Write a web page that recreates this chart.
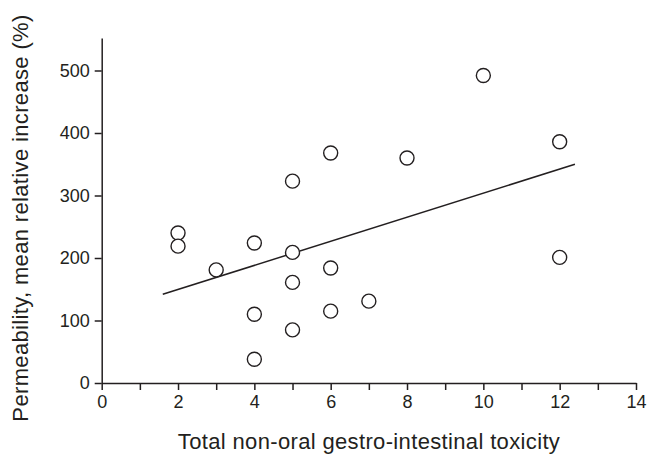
<!DOCTYPE html>
<html>
<head>
<meta charset="utf-8">
<script src="https://cdn.jsdelivr.net/npm/d3@7"></script>
<style>
  body { margin: 0; background: #fff; }
  svg { display: block; font-family: "Liberation Sans", Arial, Helvetica, sans-serif; }
  .axis text { font-size: 18px; fill: #231f20; }
  .axis line, .axis path { stroke: #231f20; stroke-width: 1.5; }
  .axis-title { font-size: 22px; letter-spacing: 0.35px; fill: #231f20; }
</style>
</head>
<body>
<div id="chart"></div>
<script>
// Data
const toxicity = [2, 2, 3, 4, 4, 4, 5, 5, 5, 5, 6, 6, 6, 7, 8, 10, 12, 12];
const permeability = [240, 219, 181, 224, 110, 38, 323, 209, 161, 85, 368, 184, 115, 131, 360, 492, 386, 201];
const trendX = [1.6, 12.4];
const trendY = [142, 350];
const xTicks = d3.range(0, 15);
const yTicks = [0, 100, 200, 300, 400, 500];

const points = toxicity.map((x, i) => ({ x, y: permeability[i] }));

// Set up dimensions
let width = 649;
let height = 455;
let margin = { top: 38, right: 13, bottom: 72, left: 101.7 };
let dotRadius = 7;
let ink = "#231f20";

// Set up scales
let xScale = d3
  .scaleLinear()
  .domain([0, 14])
  .range([margin.left, width - margin.right]);

let yScale = d3
  .scaleLinear()
  .domain([0, 552])
  .range([height - margin.bottom, margin.top]);

const svg = d3
  .select("#chart")
  .append("svg")
  .attr("width", width)
  .attr("height", height);

// Draw x axis
const xAxisG = svg
  .append("g")
  .attr("class", "x axis")
  .attr("transform", `translate(0,${height - margin.bottom})`)
  .call(
    d3
      .axisBottom(xScale)
      .tickValues(xTicks)
      .tickSizeInner(7)
      .tickSizeOuter(0)
      .tickPadding(5)
      .tickFormat((d) => (d % 2 === 0 ? d : ""))
  );

// Draw y axis
const yAxisG = svg
  .append("g")
  .attr("class", "y axis")
  .attr("transform", `translate(${margin.left},0)`)
  .call(
    d3
      .axisLeft(yScale)
      .tickValues(yTicks)
      .tickSizeInner(7)
      .tickSizeOuter(0)
      .tickPadding(5)
  );

// Draw axis titles
svg
  .append("text")
  .attr("class", "axis-title")
  .attr("text-anchor", "middle")
  .attr("x", 369)
  .attr("y", 449)
  .text("Total non-oral gestro-intestinal toxicity");

svg
  .append("text")
  .attr("class", "axis-title")
  .attr("text-anchor", "middle")
  .attr("transform", "translate(28,218) rotate(-90)")
  .text("Permeability, mean relative increase (%)");

// Draw trend line
let line = d3
  .line()
  .x((d) => xScale(d[0]))
  .y((d) => yScale(d[1]));

svg
  .append("path")
  .attr("class", "trend")
  .attr("fill", "none")
  .attr("stroke", ink)
  .attr("stroke-width", 1.5)
  .attr("d", line(d3.zip(trendX, trendY)));

// Draw points
svg
  .append("g")
  .attr("class", "points")
  .selectAll("circle")
  .data(points)
  .join("circle")
  .attr("r", dotRadius)
  .attr("fill", "#fff")
  .attr("stroke", ink)
  .attr("stroke-width", 1.4)
  .attr("cx", (d) => xScale(d.x))
  .attr("cy", (d) => yScale(d.y));
</script>
</body>
</html>
